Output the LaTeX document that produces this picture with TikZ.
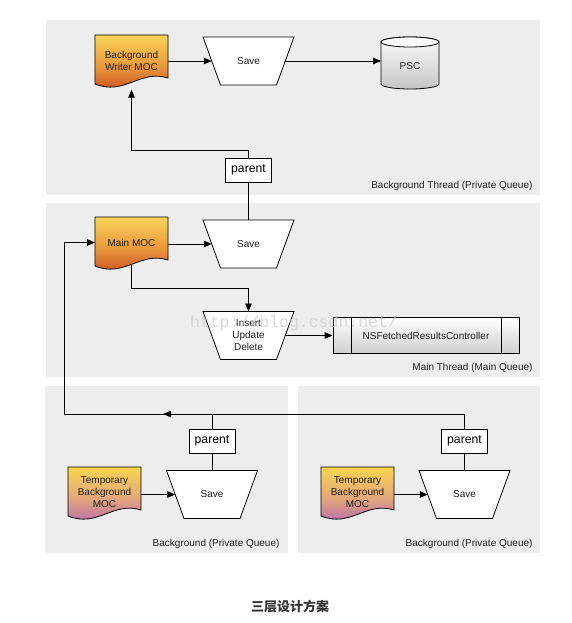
\documentclass[tikz,border=0pt]{standalone}
\usepackage{fontspec}
\setmainfont{Liberation Sans}
\newfontfamily\cjk{Noto Sans CJK SC}
\newfontfamily\wmfont{Liberation Mono}
\usetikzlibrary{shapes.geometric,arrows.meta,calc}
\pgfdeclarelayer{panels}\pgfdeclarelayer{lines}\pgfdeclarelayer{shapes}
\pgfsetlayers{panels,lines,shapes,main}
\definecolor{panelgray}{HTML}{EDEDED}
\definecolor{ytop}{HTML}{F9D35A}
\definecolor{omid}{HTML}{EA9A3C}
\definecolor{rbot}{HTML}{C4451F}
\definecolor{ttop}{HTML}{F9D54E}
\definecolor{tmid}{HTML}{E3A77A}
\definecolor{pbot}{HTML}{B064B6}
\newcommand\docbg[4]{%
  \begin{pgfonlayer}{shapes}
  \path[draw=black,line width=0.8pt,top color=#2,bottom color=#4,middle color=#3]
    (#1.north west) -- (#1.north east) -- ($(#1.north east)+(0,-43)$)
    .. controls ($(#1.north west)+(45,-34)$) and ($(#1.north west)+(30,-61)$) ..
    ($(#1.north west)+(0,-49)$) -- cycle;
  \end{pgfonlayer}}
\newcommand\trapbg[1]{%
  \begin{pgfonlayer}{shapes}
  \path[draw=black,line width=0.8pt,fill=white,line join=miter]
    (#1.north west) -- (#1.north east) -- ($(#1.south east)+(-17.5,0)$)
    -- ($(#1.south west)+(17.5,0)$) -- cycle;
  \end{pgfonlayer}}
\tikzset{
  txt/.style={font=\fontsize{10}{12}\selectfont, text=black!88},
  docnode/.style={txt, rectangle, minimum width=73pt, minimum height=51pt, inner sep=0pt, outer sep=0pt, align=center},
  trap/.style={txt, rectangle, minimum width=91pt, minimum height=48pt, inner sep=0pt, outer sep=0pt, align=center},
  parentbox/.style={draw, line width=0.8pt, fill=white, minimum width=46pt, minimum height=24pt, inner sep=0pt,
    font=\fontsize{12.2}{14}\selectfont},
  paneltxt/.style={txt, anchor=east},
  arr/.style={-{Triangle[length=8pt,width=6.5pt]}, line width=0.8pt},
  ln/.style={line width=0.8pt},
}
\begin{document}
\begin{tikzpicture}[x=1pt,y=1pt]
\useasboundingbox (0,0) rectangle (571,-623);
\begin{pgfonlayer}{panels}
  \fill[white] (0,0) rectangle (571,-623);
  \fill[panelgray] (46,-20) rectangle (540,-195);
  \fill[panelgray] (46,-203) rectangle (540,-377);
  \fill[panelgray] (45,-386) rectangle (288,-553);
  \fill[panelgray] (298,-386) rectangle (540,-553);
\end{pgfonlayer}

% top panel
\node[docnode] (bw) at (131.5,-60.5) {Background\\Writer MOC};
\node[trap] (s1) at (248.5,-61) {Save};
\node[txt, minimum width=58pt, inner sep=0pt, outer sep=0pt] (psc) at (410,-66) {PSC};
\node[parentbox] (p1) at (248.5,-170) {parent};
\node[paneltxt] (l1) at (536,-185.5) {Background Thread (Private Queue)};

% middle panel
\node[docnode] (mm) at (131.5,-242.5) {Main MOC};
\node[trap] (s2) at (248.5,-244) {Save};
\node[trap] (iud) at (248.5,-335.5) {Insert\\Update\\Delete};
\node[txt, draw, line width=0.8pt, top color=white, bottom color=gray!38, minimum width=186pt, minimum height=36pt, inner sep=0pt] (nsf) at (426,-335.5) {NSFetchedResultsController};
\node[paneltxt] (l2) at (536,-368) {Main Thread (Main Queue)};

% bottom panels
\node[parentbox] (p3) at (212,-441) {parent};
\node[parentbox] (p4) at (464.5,-441) {parent};
\node[docnode] (t1) at (104.5,-492.5) {Temporary\\Background\\MOC};
\node[docnode] (t2) at (357.5,-492.5) {Temporary\\Background\\MOC};
\node[trap] (s3) at (212,-494.5) {Save};
\node[trap] (s4) at (464.5,-494.5) {Save};
\node[paneltxt] (l3) at (283,-543.5) {Background (Private Queue)};
\node[paneltxt] (l4) at (536,-543.5) {Background (Private Queue)};

\coordinate (jl) at (64.5,-414);
\coordinate (mida) at (163,-414);

% shapes
\docbg{bw}{ytop}{omid}{rbot}
\docbg{mm}{ytop}{omid}{rbot}
\docbg{t1}{ttop}{tmid}{pbot}
\docbg{t2}{ttop}{tmid}{pbot}
\trapbg{s1}\trapbg{s2}\trapbg{iud}\trapbg{s3}\trapbg{s4}
\begin{pgfonlayer}{shapes}
\begin{scope}[shift={(psc.center)}]
  \path[draw, line width=0.8pt, top color=gray!4, bottom color=gray!45]
    (-29,24) -- (-29,-18) arc[start angle=180,end angle=360,x radius=29,y radius=5]
    -- (29,24) arc[start angle=0,end angle=180,x radius=29,y radius=5] -- cycle;
  \draw[line width=0.8pt, fill=gray!4] (0,24) ellipse[x radius=29,y radius=5];
\end{scope}
\end{pgfonlayer}
\draw[ln] ($(nsf.north west)+(19,0)$) -- ($(nsf.south west)+(19,0)$);
\draw[ln] ($(nsf.north east)+(-18,0)$) -- ($(nsf.south east)+(-18,0)$);

% connectors
\begin{pgfonlayer}{lines}
  \draw[arr] (bw.east |- s1) -- ($(s1.west)+(8.75,0)$);
  \draw[arr] ($(s1.east)+(-8.75,0)$) -- (s1 -| psc.west);
  \draw[arr, shorten >=3.7pt] (p1.north) -- ++(0,7) -| (bw.south);
  \draw[ln] (p1.south) -- (p1.south |- s2.north);
  \draw[arr] (mm.east |- s2) -- ($(s2.west)+(8.75,0)$);
  \draw[arr] (mm.center) -- ++(0,-45.5) -| (iud.north);
  \draw[arr] ($(iud.east)+(-8.75,0)$) -- (iud -| nsf.west);
  \draw[arr] (p4.north) |- (jl) |- (mm.west);
  \draw[ln] (p3.north) -- (p3.north |- jl);
  \draw[arr] (p3.north |- jl) -- (mida);
  \draw[ln] (p3.south) -- (p3.south |- s3.north);
  \draw[ln] (p4.south) -- (p4.south |- s4.north);
  \draw[arr] (t1.east |- s3) -- ($(s3.west)+(8.75,0)$);
  \draw[arr] (t2.east |- s4) -- ($(s4.west)+(8.75,0)$);
\end{pgfonlayer}

% watermark and caption
\node[font=\wmfont\fontsize{16.5}{18}\selectfont, text=gray!40, text opacity=0.7] (wm) at (294,-323) {http://blog.csdn.net/};
\node[font=\cjk\bfseries\fontsize{13}{15}\selectfont, text=black!80] (cap) at (290,-606.5) {三层设计方案};
\end{tikzpicture}
\end{document}
